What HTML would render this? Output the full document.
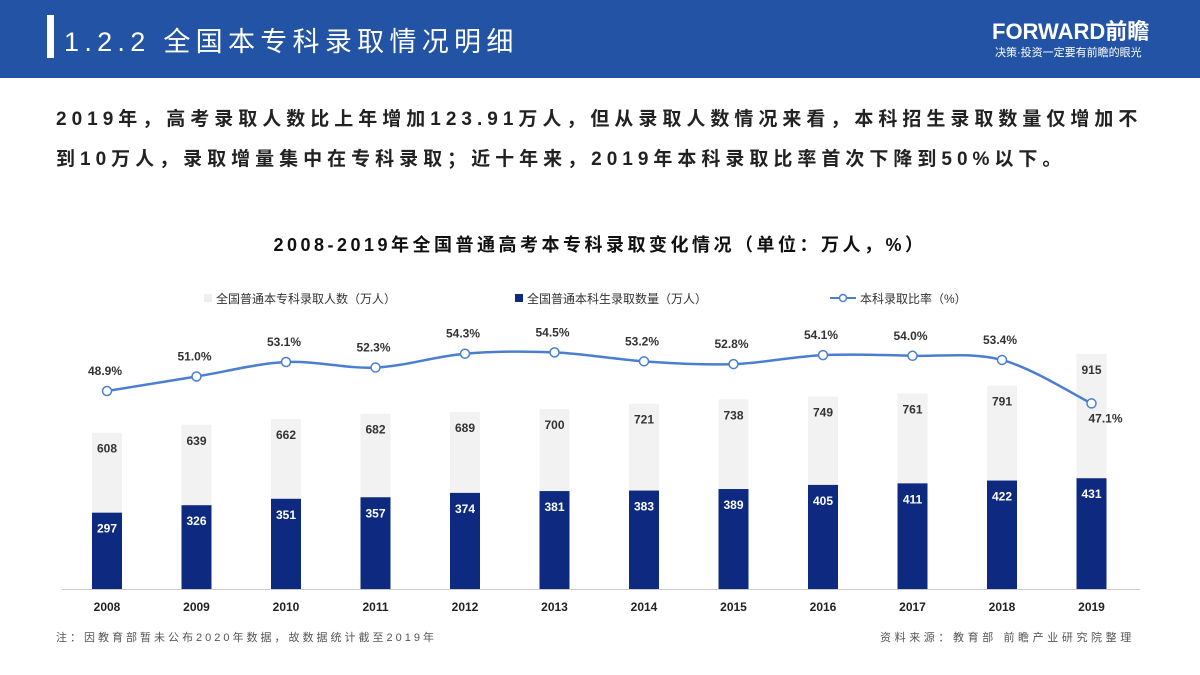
<!DOCTYPE html>
<html><head><meta charset="utf-8"><style>
body{margin:0;width:1200px;height:675px;overflow:hidden;background:#fff;font-family:"Liberation Sans","Noto Sans CJK SC",sans-serif;position:relative}
.hdr{position:absolute;left:0;top:0;width:1200px;height:78px;background:#2253a4}
.bar{position:absolute;left:47px;top:15px;width:7px;height:43px;background:#fff}
.ttl{position:absolute;left:64px;top:20px;color:#fff;font-size:27px;letter-spacing:5.3px;white-space:nowrap}
.logo{position:absolute;left:992px;top:14px;color:#fff;font-size:22px;font-weight:bold;letter-spacing:0px}
.slog{position:absolute;left:995px;top:44px;color:#fff;font-size:11px}
.p{position:absolute;left:56px;font-size:19px;color:#222;letter-spacing:5px;white-space:nowrap;font-weight:bold}
.ct{position:absolute;left:0;width:1200px;top:231px;text-align:center;font-size:18px;font-weight:bold;color:#111;letter-spacing:3.5px}
.ft{position:absolute;top:629px;font-size:11px;color:#555;letter-spacing:3px}
</style></head><body>
<div class="hdr"></div>
<div class="bar"></div>
<div class="ttl">1.2.2 全国本专科录取情况明细</div>
<div class="logo">FORWARD前瞻</div>
<div class="slog">决策·投资一定要有前瞻的眼光</div>
<div class="p" style="top:104px">2019年，高考录取人数比上年增加123.91万人，但从录取人数情况来看，本科招生录取数量仅增加不</div>
<div class="p" style="top:144px">到10万人，录取增量集中在专科录取；近十年来，2019年本科录取比率首次下降到50%以下。</div>
<div class="ct">2008-2019年全国普通高考本专科录取变化情况（单位：万人，%）</div>
<svg id="ch" width="1200" height="675" style="position:absolute;left:0;top:0"></svg>
<div class="ft" style="left:56px">注：因教育部暂未公布2020年数据，故数据统计截至2019年</div>
<div class="ft" style="left:880px;letter-spacing:3.6px">资料来源：教育部 前瞻产业研究院整理</div>
<script>
const years=['2008','2009','2010','2011','2012','2013','2014','2015','2016','2017','2018','2019'];
const total=[608,639,662,682,689,700,721,738,749,761,791,915];
const bachelor=[297,326,351,357,374,381,383,389,405,411,422,431];
const rate=[48.9,51.0,53.1,52.3,54.3,54.5,53.2,52.8,54.1,54.0,53.4,47.1];
const svg=document.getElementById('ch');const NS='http://www.w3.org/2000/svg';
const x=i=>107+i*89.5, yb=v=>589-v*0.257, yr=v=>391-(v-48.9)*6.9;
function mk(t,a,txt){const e=document.createElementNS(NS,t);for(const k in a)e.setAttribute(k,a[k]);if(txt!=null)e.textContent=txt;svg.appendChild(e);return e;}
let e=mk('line',{x1:62,x2:1140,y1:589.5,y2:589.5,stroke:'#ccc'});


years.forEach((y,i)=>{
 let r=mk('rect',{x:x(i)-15,y:yb(total[i]),width:30,height:total[i]*0.257,fill:'#f2f2f2'});
 
 
 let b=mk('rect',{x:x(i)-15,y:yb(bachelor[i]),width:30,height:bachelor[i]*0.257,fill:'#0e2a80'});
 
 
 let t1=mk('text',{x:x(i),y:yb(total[i])+20,'text-anchor':'middle','font-size':12,'font-weight':'bold',fill:'#333'},total[i]);
 
 
 let t2=mk('text',{x:x(i),y:yb(bachelor[i])+20,'text-anchor':'middle','font-size':12,'font-weight':'bold',fill:'#fff'},bachelor[i]);
 
 
 let tx=mk('text',{x:x(i),y:611,'text-anchor':'middle','font-size':12,'font-weight':'bold',fill:'#222'},y);
 
 
});
const P=rate.map((v,i)=>[x(i),yr(v)]);
let d='M'+P[0][0]+','+P[0][1];
for(let i=0;i<P.length-1;i++){const p0=P[i-1]||P[i],p1=P[i],p2=P[i+1],p3=P[i+2]||p2;
 d+=` C${p1[0]+(p2[0]-p0[0])/6},${p1[1]+(p2[1]-p0[1])/6} ${p2[0]-(p3[0]-p1[0])/6},${p2[1]-(p3[1]-p1[1])/6} ${p2[0]},${p2[1]}`;}
let ln=mk('path',{d:d,fill:'none',stroke:'#4a7fd0','stroke-width':2.5});


rate.forEach((v,i)=>{
 let c=mk('circle',{cx:P[i][0],cy:P[i][1],r:4.5,fill:'#fff',stroke:'#4a7fd0','stroke-width':1.5});
 
 
 const last=i===rate.length-1;
 let t=mk('text',{x:last?P[i][0]+14:P[i][0]-2,y:last?P[i][1]+19:P[i][1]-16,'text-anchor':'middle','font-size':12,'font-weight':'bold',fill:'#333'},v.toFixed(1)+'%');
 
 
});
const leg=[['rect',204,'#eeeeee','全国普通本专科录取人数（万人）'],['rect',515,'#0e2a80','全国普通本科生录取数量（万人）'],['line',830,'#4a7fd0','本科录取比率（%）']];
leg.forEach((l,k)=>{
 let m;
 if(l[0]==='rect')m=mk('rect',{x:l[1],y:294,width:8,height:8,fill:l[2]});
 else{m=mk('line',{x1:l[1],x2:l[1]+26,y1:298,y2:298,stroke:l[2],'stroke-width':2});mk('circle',{cx:l[1]+13,cy:298,r:3.5,fill:'#fff',stroke:l[2],'stroke-width':1.5});}
 
 
 let t=mk('text',{x:l[1]+(l[0]==='rect'?12:30),y:303,'font-size':12,fill:'#333'},l[3]);
 
 
});
</script>
</body></html>
